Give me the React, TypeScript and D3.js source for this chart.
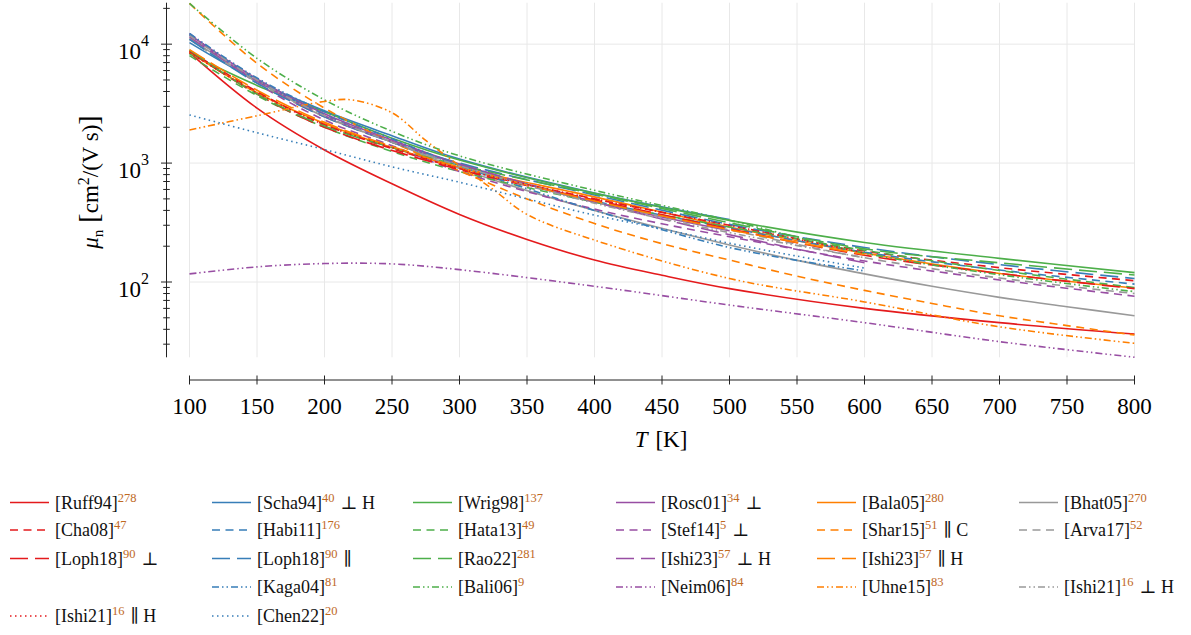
import React from 'react';
import * as d3 from 'd3';

// ---------- axes ----------
const X_DOMAIN = [100, 800];
const Y_DOMAIN = [23.27, 22320];
const xTickValues = [100, 150, 200, 250, 300, 350, 400, 450, 500, 550, 600, 650, 700, 750, 800];
const yMajorValues = [100, 1000, 10000];
const yMajorExponents = ['2', '3', '4'];

// ---------- data (T in K, mobility in cm^2/(V s)) ----------
const ruff94T = [100, 150, 200, 250, 300, 350, 400, 450, 500, 600, 700, 800];
const ruff94Mu = [8500, 2900, 1290, 670, 370, 228, 153, 114, 88, 60, 45.5, 36.5];

const scha94T = [100, 150, 200, 250, 300, 400, 500];
const scha94Mu = [10300, 4900, 2750, 1700, 1080, 560, 335];

const wrig98T = [100, 150, 200, 250, 300, 400, 500, 600, 700, 800];
const wrig98Mu = [8300, 4500, 2700, 1620, 1060, 557, 330, 215, 158, 120];

const rosc01T = [100, 150, 200, 250, 300, 400, 500];
const rosc01Mu = [12000, 5100, 2600, 1560, 980, 470, 270];

const bala05T = [100, 150, 200, 250, 300, 400, 500, 600, 700, 800];
const bala05Mu = [8600, 3900, 2150, 1350, 920, 520, 290, 175, 118, 89];

const bhat05T = [100, 150, 200, 250, 300, 400, 500, 550, 600, 650, 700, 750, 800];
const bhat05Mu = [11200, 4900, 2450, 1500, 900, 400, 205, 152, 117, 92, 74.3, 62, 52];

const cha08T = [100, 150, 200, 300, 400, 500, 600, 700, 800];
const cha08Mu = [8800, 4000, 2100, 900, 500, 300, 182, 132, 102.5];

const habi11T = [100, 150, 200, 250, 300, 400, 500, 600, 700, 800];
const habi11Mu = [12000, 5000, 2550, 1500, 960, 480, 285, 178, 126, 96];

const hata13T = [100, 150, 200, 250, 300, 400, 500, 600, 700, 800];
const hata13Mu = [8000, 3700, 2000, 1250, 850, 470, 290, 185, 125, 90];

const stef14T = [100, 150, 200, 250, 300, 400, 500, 600, 700, 800];
const stef14Mu = [12300, 4700, 2300, 1400, 850, 410, 240, 150, 104, 76];

const shar15T = [100, 150, 200, 250, 300, 350, 400, 450, 500, 550, 600, 650, 700, 750, 800];
const shar15Mu = [22000, 6900, 2900, 1500, 860, 500, 310, 210, 153, 112, 85, 66, 52, 43, 35.8];

const arva17T = [100, 150, 200, 250, 300, 400, 500, 600, 700, 800];
const arva17Mu = [11000, 4800, 2450, 1500, 950, 470, 274, 160, 108, 80];

const loph18PerpT = [100, 150, 200, 300, 400, 500, 600, 700, 800];
const loph18PerpMu = [8700, 3800, 2000, 880, 490, 280, 168, 118, 88];

const loph18ParT = [100, 150, 200, 250, 300, 400, 500, 600, 700, 800];
const loph18ParMu = [11000, 4700, 2450, 1500, 1000, 540, 305, 195, 140, 107];

const rao22T = [100, 150, 200, 250, 300, 400, 500, 600, 700, 800];
const rao22Mu = [8900, 3800, 2050, 1350, 960, 550, 315, 190, 145, 114.5];

const ishi23PerpT = [100, 150, 200, 250, 300, 400, 500, 600];
const ishi23PerpMu = [11500, 4900, 2500, 1520, 980, 470, 250, 145];

const ishi23ParT = [100, 150, 200, 250, 300, 400, 500, 600];
const ishi23ParMu = [9000, 4100, 2200, 1380, 920, 480, 275, 170];

const kaga04T = [100, 150, 200, 250, 300, 350, 400, 450, 500, 550, 600];
const kaga04Mu = [12300, 5200, 2700, 1600, 950, 610, 400, 275, 195, 152, 124];

const bali06T = [100, 150, 200, 250, 300, 400, 500, 600, 700, 800];
const bali06Mu = [22000, 7600, 3400, 1850, 1150, 590, 330, 175, 115, 83];

const neim06T = [100, 150, 200, 250, 300, 400, 500, 600, 700, 800];
const neim06Mu = [117, 134, 143, 142, 127, 92, 64, 45.5, 31.5, 23.3];

const uhne15T = [100, 150, 200, 220, 250, 275, 300, 325, 350, 400, 500, 600, 700, 800];
const uhne15Mu = [1900, 2500, 3300, 3400, 2650, 1550, 950, 600, 370, 225, 107, 68, 42, 30.5];

const ishi21PerpT = [100, 150, 200, 250, 300, 400, 500, 600];
const ishi21PerpMu = [11800, 5000, 2500, 1500, 950, 460, 260, 160];

const ishi21ParT = [100, 150, 200, 250, 300, 400, 500, 600];
const ishi21ParMu = [8500, 3900, 2100, 1350, 900, 500, 300, 175];

const chen22T = [100, 150, 200, 250, 300, 350, 400, 450, 500, 550, 600];
const chen22Mu = [2540, 1800, 1300, 930, 690, 500, 365, 280, 212, 165, 131];

// ---------- styles ----------
const COLORS = {
  red: '#e41a1c', blue: '#377eb8', green: '#4daf4a',
  purple: '#984ea3', orange: '#ff7f00', gray: '#999999',
};
const DASHES = {
  solid: undefined as string | undefined,
  dashed: '8,5.5',
  loose: '18,7',
  dashdotdot: '7,3,1.5,3,1.5,3',
  dotted: '1.5,3.5',
};

type Series = {
  key: string; label: string; ref: string; note: string;
  color: string; dash: string | undefined; T: number[]; mu: number[];
};

const series: Series[] = [
  { key: 'ruff94', label: '[Ruff94]', ref: '278', note: '', color: COLORS.red, dash: DASHES.solid, T: ruff94T, mu: ruff94Mu },
  { key: 'scha94', label: '[Scha94]', ref: '40', note: '⊥ H', color: COLORS.blue, dash: DASHES.solid, T: scha94T, mu: scha94Mu },
  { key: 'wrig98', label: '[Wrig98]', ref: '137', note: '', color: COLORS.green, dash: DASHES.solid, T: wrig98T, mu: wrig98Mu },
  { key: 'rosc01', label: '[Rosc01]', ref: '34', note: '⊥', color: COLORS.purple, dash: DASHES.solid, T: rosc01T, mu: rosc01Mu },
  { key: 'bala05', label: '[Bala05]', ref: '280', note: '', color: COLORS.orange, dash: DASHES.solid, T: bala05T, mu: bala05Mu },
  { key: 'bhat05', label: '[Bhat05]', ref: '270', note: '', color: COLORS.gray, dash: DASHES.solid, T: bhat05T, mu: bhat05Mu },
  { key: 'cha08', label: '[Cha08]', ref: '47', note: '', color: COLORS.red, dash: DASHES.dashed, T: cha08T, mu: cha08Mu },
  { key: 'habi11', label: '[Habi11]', ref: '176', note: '', color: COLORS.blue, dash: DASHES.dashed, T: habi11T, mu: habi11Mu },
  { key: 'hata13', label: '[Hata13]', ref: '49', note: '', color: COLORS.green, dash: DASHES.dashed, T: hata13T, mu: hata13Mu },
  { key: 'stef14', label: '[Stef14]', ref: '5', note: '⊥', color: COLORS.purple, dash: DASHES.dashed, T: stef14T, mu: stef14Mu },
  { key: 'shar15', label: '[Shar15]', ref: '51', note: '∥ C', color: COLORS.orange, dash: DASHES.dashed, T: shar15T, mu: shar15Mu },
  { key: 'arva17', label: '[Arva17]', ref: '52', note: '', color: COLORS.gray, dash: DASHES.dashed, T: arva17T, mu: arva17Mu },
  { key: 'loph18perp', label: '[Loph18]', ref: '90', note: '⊥', color: COLORS.red, dash: DASHES.loose, T: loph18PerpT, mu: loph18PerpMu },
  { key: 'loph18par', label: '[Loph18]', ref: '90', note: '∥', color: COLORS.blue, dash: DASHES.loose, T: loph18ParT, mu: loph18ParMu },
  { key: 'rao22', label: '[Rao22]', ref: '281', note: '', color: COLORS.green, dash: DASHES.loose, T: rao22T, mu: rao22Mu },
  { key: 'ishi23perp', label: '[Ishi23]', ref: '57', note: '⊥ H', color: COLORS.purple, dash: DASHES.loose, T: ishi23PerpT, mu: ishi23PerpMu },
  { key: 'ishi23par', label: '[Ishi23]', ref: '57', note: '∥ H', color: COLORS.orange, dash: DASHES.loose, T: ishi23ParT, mu: ishi23ParMu },
  { key: 'kaga04', label: '[Kaga04]', ref: '81', note: '', color: COLORS.blue, dash: DASHES.dashdotdot, T: kaga04T, mu: kaga04Mu },
  { key: 'bali06', label: '[Bali06]', ref: '9', note: '', color: COLORS.green, dash: DASHES.dashdotdot, T: bali06T, mu: bali06Mu },
  { key: 'neim06', label: '[Neim06]', ref: '84', note: '', color: COLORS.purple, dash: DASHES.dashdotdot, T: neim06T, mu: neim06Mu },
  { key: 'uhne15', label: '[Uhne15]', ref: '83', note: '', color: COLORS.orange, dash: DASHES.dashdotdot, T: uhne15T, mu: uhne15Mu },
  { key: 'ishi21perp', label: '[Ishi21]', ref: '16', note: '⊥ H', color: COLORS.gray, dash: DASHES.dashdotdot, T: ishi21PerpT, mu: ishi21PerpMu },
  { key: 'ishi21par', label: '[Ishi21]', ref: '16', note: '∥ H', color: COLORS.red, dash: DASHES.dotted, T: ishi21ParT, mu: ishi21ParMu },
  { key: 'chen22', label: '[Chen22]', ref: '20', note: '', color: COLORS.blue, dash: DASHES.dotted, T: chen22T, mu: chen22Mu },
];

// legend: 6 columns, row-major, null = empty slot
const legendGrid: (string | null)[][] = [
  ['ruff94', 'scha94', 'wrig98', 'rosc01', 'bala05', 'bhat05'],
  ['cha08', 'habi11', 'hata13', 'stef14', 'shar15', 'arva17'],
  ['loph18perp', 'loph18par', 'rao22', 'ishi23perp', 'ishi23par', null],
  [null, 'kaga04', 'bali06', 'neim06', 'uhne15', 'ishi21perp'],
  ['ishi21par', 'chen22', null, null, null, null],
];

const FONT = "'Liberation Serif', 'Times New Roman', 'DejaVu Serif', serif";
const REF_COLOR = '#c0691f';

export default function App() {
  const plotLeft = 189.5, plotRight = 1134.5, plotTop = 2.7, plotBottom = 357.3;
  const yAxisX = 166.5, xAxisY = 380;

  const x = d3.scaleLinear().domain(X_DOMAIN).range([plotLeft, plotRight]);
  const y = d3.scaleLog().domain(Y_DOMAIN).range([plotBottom, plotTop]);

  const line = d3.line<[number, number]>()
    .x((d) => x(d[0]))
    .y((d) => y(d[1]))
    .curve(d3.curveCatmullRom.alpha(0.5));

  const minorTicks: number[] = [];
  for (let k = 1; k <= 4; k++) {
    for (let m = 2; m <= 9; m++) {
      const v = m * Math.pow(10, k);
      if (v >= Y_DOMAIN[0] && v <= Y_DOMAIN[1]) minorTicks.push(v);
    }
  }

  const byKey = new Map(series.map((s) => [s.key, s]));
  const colX = [10, 212, 413, 616, 817, 1019];
  const rowY = [502.5, 530, 558.5, 587, 616];

  return (
    <svg width={1191} height={635}
      style={{ position: 'absolute', left: 0, top: 0, background: '#fff', fontFamily: FONT }}>
      <rect x={0} y={0} width={1191} height={635} fill="#fff" />
      {/* grid */}
      <g stroke="#e8e8e8" strokeWidth={1}>
        {xTickValues.map((t) => (
          <line key={'gx' + t} x1={x(t)} x2={x(t)} y1={plotTop} y2={plotBottom} />
        ))}
        {yMajorValues.map((v) => (
          <line key={'gy' + v} x1={plotLeft} x2={plotRight} y1={y(v)} y2={y(v)} />
        ))}
      </g>

      {/* series */}
      <g fill="none">
        {series.map((s) => (
          <path key={s.key}
            d={line(s.T.map((t, i) => [t, s.mu[i]] as [number, number])) || ''}
            stroke={s.color} strokeWidth={1.6} strokeDasharray={s.dash} />
        ))}
      </g>

      {/* y axis */}
      <g stroke="#222" strokeWidth={1}>
        <line x1={yAxisX} x2={yAxisX} y1={plotTop} y2={plotBottom} />
        {yMajorValues.map((v) => (
          <line key={'yt' + v} x1={yAxisX - 5.5} x2={yAxisX + 5.5} y1={y(v)} y2={y(v)} />
        ))}
        {minorTicks.map((v) => (
          <line key={'ym' + v} x1={yAxisX - 3.3} x2={yAxisX + 3.3} y1={y(v)} y2={y(v)} />
        ))}
      </g>
      {yMajorValues.map((v, i) => (
        <text key={'yl' + v} x={149} y={y(v) + 15} textAnchor="end" fontSize={23} fill="#000"
          style={{ fontFamily: FONT }}>
          10<tspan dy={-13} fontSize={16}>{yMajorExponents[i]}</tspan>
        </text>
      ))}

      {/* x axis */}
      <g stroke="#222" strokeWidth={1}>
        <line x1={plotLeft} x2={plotRight} y1={xAxisY} y2={xAxisY} />
        {xTickValues.map((t) => (
          <line key={'xt' + t} x1={x(t)} x2={x(t)} y1={xAxisY - 4.5} y2={xAxisY + 4.5} />
        ))}
      </g>
      {xTickValues.map((t) => (
        <text key={'xl' + t} x={x(t)} y={414} textAnchor="middle" fontSize={23} fill="#000"
          style={{ fontFamily: FONT }}>{t}</text>
      ))}

      {/* axis labels */}
      <text x={661} y={447} textAnchor="middle" fontSize={23} fill="#000" style={{ fontFamily: FONT }}>
        <tspan fontStyle="italic">T</tspan><tspan dx={8}>[K]</tspan>
      </text>
      <text transform="translate(98,182) rotate(-90)" textAnchor="middle" fontSize={23} fill="#000"
        style={{ fontFamily: FONT }}>
        <tspan fontStyle="italic">μ</tspan>
        <tspan fontSize={15} dy={5}>n</tspan>
        <tspan dy={-5} dx={7} fontSize={28}>[</tspan>
        <tspan>cm</tspan>
        <tspan fontSize={16} dy={-9}>2</tspan>
        <tspan dy={9}>/(V s)</tspan>
        <tspan fontSize={28}>]</tspan>
      </text>

      {/* legend */}
      {legendGrid.map((row, r) =>
        row.map((k, c) => {
          if (!k) return null;
          const s = byKey.get(k)!;
          const lx = colX[c];
          const ly = rowY[r];
          return (
            <g key={'lg' + r + '-' + c}>
              <line x1={lx} x2={lx + 39} y1={ly} y2={ly} stroke={s.color} strokeWidth={1.6}
                strokeDasharray={s.dash} />
              <text x={lx + 45} y={ly + 6} fontSize={18} fill="#111" style={{ fontFamily: FONT }}>
                {s.label}
                <tspan dy={-7} fontSize={12.5} fill={REF_COLOR}>{s.ref}</tspan>
                {s.note ? <tspan dy={7} dx={6}>{s.note}</tspan> : null}
              </text>
            </g>
          );
        })
      )}
    </svg>
  );
}
